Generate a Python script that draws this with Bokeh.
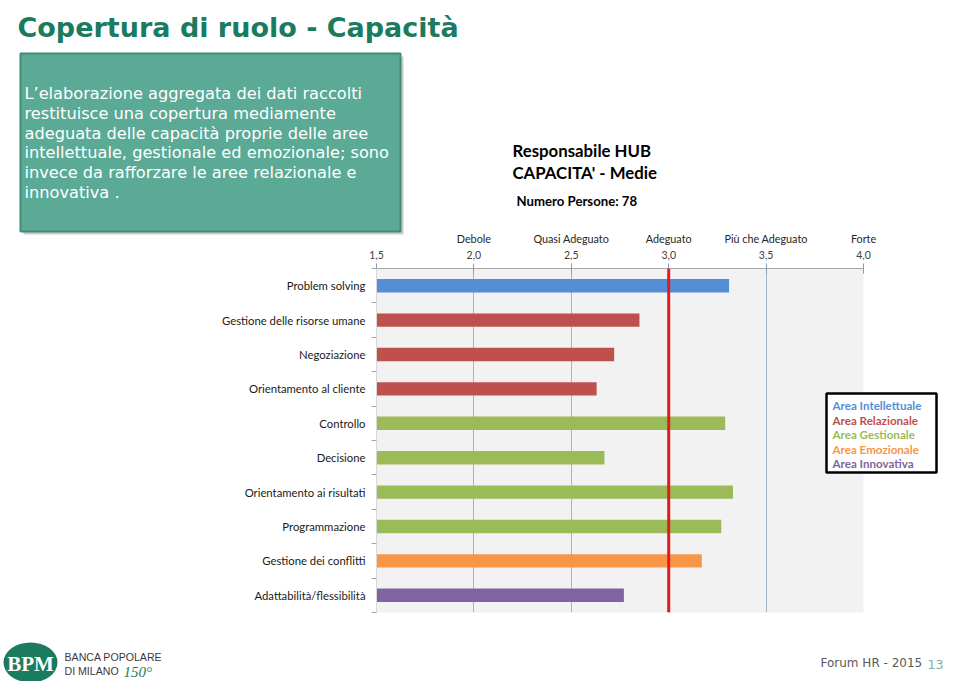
from bokeh.plotting import figure
from bokeh.models import Range1d, LinearAxis, FixedTicker, Span, Grid, ColumnDataSource
from bokeh.core.properties import value
from bokeh.embed import file_html
from bokeh.resources import INLINE

# ---------------- data ----------------
competenze = ["Problem solving", "Gestione delle risorse umane", "Negoziazione",
              "Orientamento al cliente", "Controllo", "Decisione",
              "Orientamento ai risultati", "Programmazione",
              "Gestione dei conflitti", "Adattabilità/flessibilità"]
medie = [3.31, 2.85, 2.72, 2.63, 3.29, 2.67, 3.33, 3.27, 3.17, 2.77]
aree = ["Intellettuale", "Relazionale", "Relazionale", "Relazionale",
        "Gestionale", "Gestionale", "Gestionale", "Gestionale",
        "Emozionale", "Innovativa"]
area_nomi = ["Intellettuale", "Relazionale", "Gestionale", "Emozionale", "Innovativa"]
area_legenda = ["Area Intellettuale", "Area Relazionale", "Area Gestionale",
                "Area Emozionale", "Area Innovativa"]
area_colori = ["#558ED5", "#C0504D", "#9BBB59", "#F79646", "#8064A2"]
tick_valori = [1.5, 2.0, 2.5, 3.0, 3.5, 4.0]
tick_etichette = ["1,5", "2,0", "2,5", "3,0", "3,5", "4,0"]
livelli = ["Debole", "Quasi Adeguato", "Adeguato", "Più che Adeguato", "Forte"]
livelli_valori = [2.0, 2.5, 3.0, 3.5, 4.0]
soglia = 3.0
scala_min, scala_max = 1.5, 4.0

testo_box = ["L’elaborazione aggregata dei dati raccolti",
             "restituisce una copertura mediamente",
             "adeguata delle capacità proprie delle aree",
             "intellettuale, gestionale ed emozionale; sono",
             "invece da rafforzare le aree relazionale e",
             "innovativa ."]

# ---------------- figure ----------------
W, H = 944, 681
# plot frame position in picture pixel coordinates
FL, FR, FT, FB = 376, 863, 268, 612

n = len(competenze)
p = figure(width=W, height=H, output_backend="svg", toolbar_location=None,
           x_range=Range1d(scala_min, scala_max), y_range=Range1d(n, 0),
           x_axis_type=None, y_axis_type=None,
           min_border_left=FL, min_border_right=W - FR,
           min_border_top=FT, min_border_bottom=H - FB)
p.background_fill_color = "#F2F2F2"
p.border_fill_color = "white"
p.outline_line_color = None

p.extra_x_ranges = {"px": Range1d(FL, FR)}
p.extra_y_ranges = {"py": Range1d(FB, FT)}

# grid
grid = Grid(dimension=0, ticker=FixedTicker(ticks=tick_valori),
            grid_line_color="#A7B4C5", grid_line_width=1)
p.add_layout(grid)

# top axis with numbers
ax1 = LinearAxis(ticker=FixedTicker(ticks=tick_valori, minor_ticks=[]),
                 major_label_overrides=dict(zip(tick_valori, tick_etichette)),
                 axis_line_color="#A6A6A6", major_tick_line_color="#8A9BB3",
                 major_tick_in=5, major_tick_out=5,
                 major_label_standoff=5,
                 major_label_text_font="Lato",
                 major_label_text_font_size="10.5px",
                 major_label_text_color="#404040")
p.add_layout(ax1, "above")

# top axis with levels
ax2 = LinearAxis(ticker=FixedTicker(ticks=livelli_valori, minor_ticks=[]),
                 major_label_overrides=dict(zip(livelli_valori, livelli)),
                 axis_line_color=None, major_tick_line_color=None,
                 major_tick_in=0, major_tick_out=0,
                 major_label_standoff=3,
                 major_label_text_font="Lato",
                 major_label_text_font_size="10.8px",
                 major_label_text_color="#262626")
p.add_layout(ax2, "above")

# left axis with categories
centri = [i + 0.5 for i in range(n)]
confini = [float(i) for i in range(n + 1)]
yax = LinearAxis(ticker=FixedTicker(ticks=centri, minor_ticks=confini),
                 major_label_overrides=dict(zip(centri, competenze)),
                 axis_line_color="#D9D9D9",
                 major_tick_line_color=None, major_tick_in=0, major_tick_out=0,
                 minor_tick_line_color="#A6A6A6", minor_tick_in=0, minor_tick_out=5,
                 major_label_standoff=6,
                 major_label_text_font="Lato",
                 major_label_text_font_size="11.3px",
                 major_label_text_color="#1A1A1A")
p.add_layout(yax, "left")

# bars
colmap = dict(zip(area_nomi, area_colori))
src = ColumnDataSource(dict(y=centri, right=medie, left=[scala_min] * n,
                            color=[colmap[a] for a in aree], name=competenze))
p.hbar(y="y", left="left", right="right", height=0.39, source=src,
       fill_color="color", line_color=None)

# threshold line
p.add_layout(Span(location=soglia, dimension="height", line_color="#E3191C",
                  line_width=3))


def txt(x, y, s, size, color, font="Lato", style="normal", align="left",
        baseline="middle"):
    p.text(x=[x], y=[y], text=[s], x_range_name="px", y_range_name="py",
           level="annotation", text_font=value(font),
           text_font_size=f"{size}px", text_font_style=style,
           text_color=color, text_align=align, text_baseline=baseline)


# slide title
txt(17, 27, "Copertura di ruolo - Capacità", 27, "#1B7B5E",
    font="DejaVu Sans", style="bold", baseline="alphabetic")

# text box (shadow + box)
p.quad(left=[23], right=[403], top=[56], bottom=[234], x_range_name="px",
       y_range_name="py", level="annotation", fill_color="#9A9A9A",
       fill_alpha=0.5, line_color=None)
p.quad(left=[20], right=[400], top=[53], bottom=[231], x_range_name="px",
       y_range_name="py", level="annotation", fill_color="#5AAA96",
       line_color="#3E8C76", line_width=2)
for i, riga in enumerate(testo_box):
    txt(24, 93 + 19.8 * i, riga, 16.2, "white", font="DejaVu Sans")

# chart header
txt(512, 150, "Responsabile HUB", 16.8, "black", style="bold")
txt(512, 172, "CAPACITA' - Medie", 16.8, "black", style="bold")
txt(516, 200, "Numero Persone: 78", 13.2, "black", style="bold")

# legend
p.quad(left=[826], right=[936], top=[393], bottom=[472], x_range_name="px",
       y_range_name="py", level="annotation", fill_color="white",
       line_color="black", line_width=2.5)
leg = ColumnDataSource(dict(x=[832] * len(area_legenda),
                            y=[405 + 14.6 * i for i in range(len(area_legenda))],
                            t=area_legenda, c=area_colori))
p.text(x="x", y="y", text="t", text_color="c", source=leg, x_range_name="px",
       y_range_name="py", level="annotation", text_font=value("Lato"),
       text_font_size="11.6px", text_font_style="bold", text_baseline="middle")

# footer
p.ellipse(x=[30], y=[662], width=54, height=40, x_range_name="px",
          y_range_name="py", level="annotation", fill_color="#1B7B5E",
          line_color=None)
txt(30, 663, "BPM", 21, "white", font="Liberation Serif", style="bold",
    align="center")
txt(64, 656, "BANCA POPOLARE", 10.6, "#3A3A3A", font="Liberation Sans")
txt(64, 670, "DI MILANO", 10.6, "#3A3A3A", font="Liberation Sans")
txt(123, 671, "150°", 15, "#1B7B5E", font="Liberation Serif", style="italic")
txt(820, 662, "Forum HR - 2015", 12, "#595959", font="DejaVu Sans")
txt(943, 664, "13", 12.5, "#7AB0AC", font="DejaVu Sans", align="right")

open("out.html", "w").write(file_html(p, INLINE))
